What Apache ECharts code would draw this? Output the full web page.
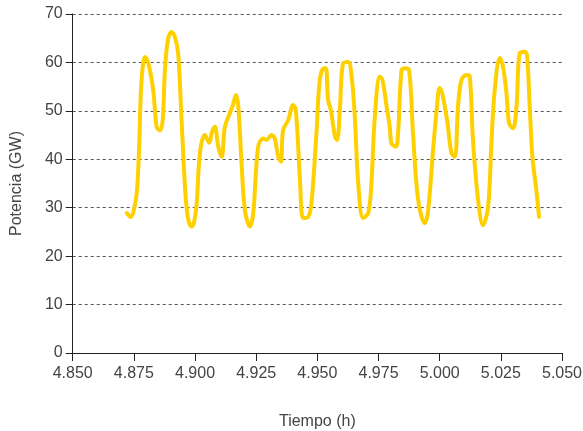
<!DOCTYPE html>
<html>
<head>
<meta charset="utf-8">
<script src="https://cdn.jsdelivr.net/npm/echarts@6/dist/echarts.min.js"></script>
<style>
html,body{margin:0;padding:0;background:#fff;}
#chart{width:583px;height:431px;}
</style>
</head>
<body>
<div id="chart"></div>
<script>
// Time (h) values
const tiempo = [
4.8721,4.8737,4.8750,4.8763,4.8771,4.8779,4.8787,4.8795,4.8808,4.8829,
4.8843,4.8857,4.8868,4.8877,4.8889,4.8904,4.8918,4.8931,4.8945,4.8959,
4.8971,4.8986,4.8996,4.9007,4.9020,4.9040,4.9058,4.9069,4.9081,4.9095,
4.9109,4.9122,4.9143,4.9155,4.9167,4.9177,4.9190,4.9204,4.9224,4.9238,
4.9258,4.9279,4.9292,4.9313,4.9326,4.9340,4.9351,4.9360,4.9381,4.9401,
4.9412,4.9429,4.9442,4.9462,4.9476,4.9497,4.9510,4.9527,4.9535,4.9544,
4.9555,4.9572,4.9581,4.9592,4.9605,4.9626,4.9640,4.9653,4.9667,4.9687,
4.9708,4.9721,4.9735,4.9755,4.9766,4.9783,4.9796,4.9803,4.9821,4.9830,
4.9844,4.9857,4.9875,4.9891,4.9912,4.9939,4.9953,4.9973,4.9994,5.0000,
5.0028,5.0048,5.0062,5.0075,5.0089,5.0110,5.0123,5.0136,5.0157,5.0177,
5.0198,5.0212,5.0225,5.0246,5.0259,5.0273,5.0284,5.0300,5.0314,5.0327,
5.0348,5.0357,5.0368,5.0379,5.0395,5.0406
];
// Power (GW) values
const potencia = [
28.9,28.1,29.5,33.7,41.9,54.3,59.5,61.1,60.1,54.3,
46.7,46.0,48.1,58.4,64.6,66.3,65.2,61.9,48.1,34.3,
27.9,26.1,27.0,31.0,41.3,45.0,43.4,45.6,46.7,42.6,
40.5,46.7,49.6,51.2,53.3,50.9,39.2,29.5,26.1,28.9,
42.6,44.3,44.0,45.0,44.3,40.5,39.5,46.0,48.1,51.2,
50.2,35.7,27.9,28.1,31.0,46.0,56.4,58.8,58.8,52.2,
50.2,44.7,44.0,50.2,59.8,60.1,57.1,48.8,35.1,27.9,
28.9,35.1,48.8,57.1,56.4,50.9,46.7,43.3,42.6,45.4,
58.4,58.8,58.4,45.4,31.6,26.8,29.5,41.9,53.6,54.7,
48.8,41.3,40.5,50.9,56.4,57.4,57.1,44.0,31.6,26.4,
30.2,44.0,54.3,60.9,59.1,53.6,47.4,46.4,50.9,61.9,
62.2,61.5,50.9,40.5,33.7,28.1
];
const xTicks = {min: 4.850, max: 5.050, interval: 0.025};
const yTicks = {min: 0, max: 70, interval: 10};

const data = tiempo.map((t, i) => [t, potencia[i]]);
const font = '"Liberation Sans", Arial, sans-serif';
const textColor = '#444444';

const chart = echarts.init(document.getElementById('chart'), null, {renderer: 'canvas'});
chart.setOption({
  animation: false,
  backgroundColor: '#ffffff',
  grid: {left: 72.7, right: 21, top: 14, bottom: 78, containLabel: false, outerBoundsMode: 'none'},
  xAxis: {
    type: 'value',
    min: xTicks.min, max: xTicks.max, interval: xTicks.interval,
    name: 'Tiempo (h)', nameLocation: 'middle', nameGap: 61,
    nameTextStyle: {fontFamily: font, fontSize: 16, color: textColor},
    axisLine: {show: true, onZero: false, lineStyle: {color: '#222', width: 1}},
    axisTick: {show: true, length: 8, inside: false, lineStyle: {color: '#222'}},
    axisLabel: {fontFamily: font, fontSize: 16, color: textColor, margin: 13,
      formatter: v => Number(v).toFixed(3)},
    splitLine: {show: false}
  },
  yAxis: {
    type: 'value',
    min: yTicks.min, max: yTicks.max, interval: yTicks.interval,
    name: 'Potencia (GW)', nameLocation: 'middle', nameGap: 48, nameRotate: 90,
    nameTextStyle: {fontFamily: font, fontSize: 16, color: textColor},
    axisLine: {show: true, lineStyle: {color: '#222', width: 1}},
    axisTick: {show: true, length: 7, inside: false, lineStyle: {color: '#222'}},
    axisLabel: {fontFamily: font, fontSize: 16, color: textColor, margin: 10},
    splitLine: {show: true, lineStyle: {color: '#555', width: 1, type: [3, 3]}}
  },
  series: [{
    type: 'line',
    data: data,
    smooth: 0.35,
    symbol: 'none',
    lineStyle: {color: '#FFD000', width: 4, cap: 'round', join: 'round'}
  }]
});
</script>
</body>
</html>
